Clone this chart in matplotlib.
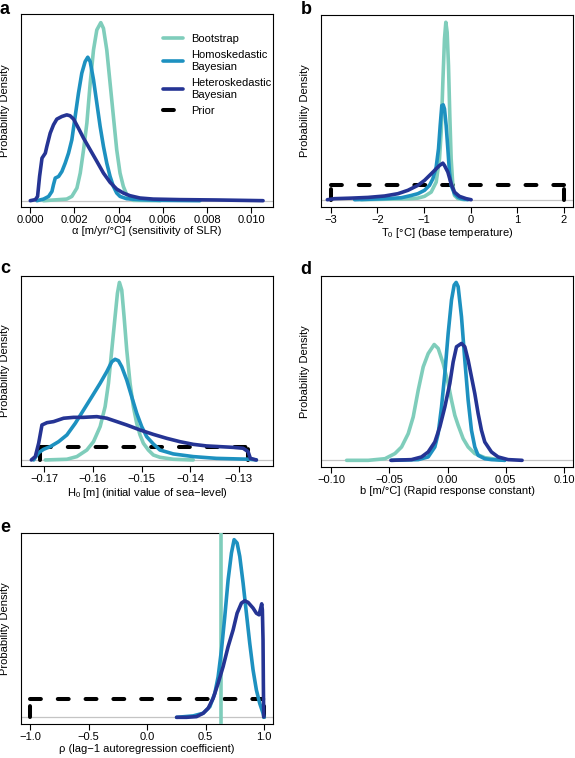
import matplotlib.pyplot as plt

plt.rcParams['font.family'] = ['Liberation Sans', 'DejaVu Sans']
plt.rcParams['font.size'] = 8
plt.rcParams['mathtext.fontset'] = 'custom'
plt.rcParams['mathtext.rm'] = 'Liberation Sans'

# colours
c_boot = '#7fcdbb'
c_homo = '#1d91c0'
c_het = '#253494'

series_names = ['Bootstrap', 'Homoskedastic\nBayesian', 'Heteroskedastic\nBayesian', 'Prior']

# ---- panel a: alpha (relative density)
a_boot_x = [0.00060, 0.00165, 0.00188, 0.00211, 0.00226, 0.00241, 0.00256, 0.00271, 0.00286, 0.00301,
            0.00319, 0.00331, 0.00346, 0.00361, 0.00376, 0.00391, 0.00406, 0.00421, 0.00436, 0.00451,
            0.00466, 0.00587]
a_boot_y = [0.0, 0.009, 0.024, 0.071, 0.155, 0.286, 0.436, 0.660, 0.847, 0.959,
            1.0, 0.968, 0.847, 0.660, 0.473, 0.286, 0.155, 0.080, 0.034, 0.011,
            0.002, 0.0]
a_homo_x = [0.00030, 0.00060, 0.00083, 0.00098, 0.00105, 0.00113, 0.00128, 0.00143, 0.00158, 0.00173,
            0.00188, 0.00203, 0.00218, 0.00233, 0.00248, 0.00260, 0.00271, 0.00286, 0.00301, 0.00316,
            0.00331, 0.00346, 0.00361, 0.00376, 0.00391, 0.00406, 0.00436, 0.00496, 0.00587, 0.00767]
a_homo_y = [0.0, 0.009, 0.024, 0.052, 0.090, 0.127, 0.136, 0.164, 0.211, 0.267,
            0.342, 0.473, 0.604, 0.716, 0.781, 0.806, 0.781, 0.679, 0.548, 0.417,
            0.305, 0.211, 0.136, 0.080, 0.043, 0.024, 0.011, 0.006, 0.002, 0.0]
a_het_x = [0.00000, 0.00023, 0.00033, 0.00042, 0.00053, 0.00068, 0.00075, 0.00090, 0.00105, 0.00120,
           0.00143, 0.00165, 0.00180, 0.00196, 0.00218, 0.00241, 0.00271, 0.00301, 0.00331, 0.00361,
           0.00391, 0.00421, 0.00451, 0.00496, 0.00556, 0.00677, 0.00842, 0.01053]
a_het_y = [0.0, 0.006, 0.024, 0.136, 0.239, 0.267, 0.305, 0.379, 0.426, 0.458,
           0.473, 0.482, 0.477, 0.458, 0.407, 0.351, 0.286, 0.221, 0.155, 0.103,
           0.065, 0.043, 0.028, 0.015, 0.009, 0.006, 0.004, 0.0]
a_ticks = [0.0, 0.002, 0.004, 0.006, 0.008, 0.010]
a_ticklabels = ['0.000', '0.002', '0.004', '0.006', '0.008', '0.010']

# ---- panel b: T0
b_boot_x = [-2.344, -1.274, -1.131, -0.989, -0.846, -0.739, -0.668, -0.632, -0.596, -0.561,
            -0.532, -0.504, -0.475, -0.447, -0.418, -0.382, -0.347, -0.275, -0.133]
b_boot_y = [0.0, 0.006, 0.009, 0.019, 0.043, 0.099, 0.231, 0.381, 0.662, 0.906,
            1.0, 0.944, 0.756, 0.475, 0.231, 0.081, 0.024, 0.006, 0.0]
b_homo_x = [-2.486, -1.844, -1.488, -1.274, -1.131, -0.989, -0.882, -0.810, -0.739, -0.689,
            -0.653, -0.618, -0.589, -0.561, -0.525, -0.489, -0.454, -0.418, -0.347, -0.275,
            -0.204, -0.061]
b_homo_y = [0.0, 0.006, 0.011, 0.024, 0.034, 0.053, 0.081, 0.118, 0.184, 0.287,
            0.418, 0.531, 0.535, 0.512, 0.418, 0.287, 0.156, 0.081, 0.034, 0.015,
            0.006, 0.0]
b_het_x = [-3.071, -2.914, -2.558, -2.201, -1.844, -1.559, -1.345, -1.131, -0.989, -0.846,
           -0.739, -0.668, -0.596, -0.561, -0.489, -0.418, -0.347, -0.240, -0.097, 0.010]
b_het_y = [0.0, 0.006, 0.009, 0.013, 0.021, 0.034, 0.053, 0.081, 0.109, 0.146,
           0.174, 0.193, 0.206, 0.193, 0.156, 0.090, 0.043, 0.019, 0.006, 0.0]
b_prior = (-3.0, 2.0, 0.081)
b_ticks = [-3, -2, -1, 0, 1, 2]
b_ticklabels = ['−3', '−2', '−1', '0', '1', '2']

# ---- panel c: H0
c_boot_x = [-0.16979, -0.16535, -0.16330, -0.16125, -0.15988, -0.15851, -0.15749, -0.15680, -0.15612, -0.15544,
            -0.15496, -0.15455, -0.15407, -0.15359, -0.15304, -0.15236, -0.15168, -0.15099, -0.15031, -0.14962,
            -0.14860, -0.14757, -0.14621, -0.14347, -0.13937]
c_boot_y = [0.0, 0.004, 0.019, 0.056, 0.103, 0.188, 0.300, 0.432, 0.619, 0.807,
            0.938, 1.0, 0.957, 0.807, 0.619, 0.432, 0.300, 0.206, 0.141, 0.094,
            0.056, 0.028, 0.015, 0.004, 0.0]
c_homo_x = [-0.17219, -0.17116, -0.17014, -0.16877, -0.16706, -0.16535, -0.16364, -0.16193, -0.16022, -0.15851,
            -0.15715, -0.15612, -0.15544, -0.15475, -0.15407, -0.15304, -0.15202, -0.15099, -0.14997, -0.14894,
            -0.14757, -0.14621, -0.14347, -0.13937, -0.13458, -0.12774, -0.12638]
c_homo_y = [0.0, 0.041, 0.060, 0.075, 0.103, 0.141, 0.206, 0.281, 0.356, 0.432,
            0.497, 0.553, 0.567, 0.559, 0.525, 0.450, 0.356, 0.263, 0.188, 0.131,
            0.090, 0.056, 0.034, 0.019, 0.009, 0.004, 0.0]
c_het_x = [-0.17267, -0.17185, -0.17116, -0.17048, -0.16945, -0.16809, -0.16603, -0.16398, -0.16193, -0.15920,
           -0.15715, -0.15509, -0.15304, -0.15031, -0.14757, -0.14484, -0.14210, -0.13937, -0.13663, -0.13390,
           -0.13116, -0.12911, -0.12809, -0.12761, -0.12638]
c_het_y = [0.0, 0.019, 0.094, 0.197, 0.210, 0.216, 0.235, 0.240, 0.240, 0.244,
           0.235, 0.216, 0.197, 0.169, 0.144, 0.122, 0.103, 0.088, 0.079, 0.075,
           0.071, 0.066, 0.047, 0.009, 0.0]
c_prior = (-0.17096, -0.12809, 0.071)
c_ticks = [-0.17, -0.16, -0.15, -0.14, -0.13]
c_ticklabels = ['−0.17', '−0.16', '−0.15', '−0.14', '−0.13']

# ---- panel d: b
d_boot_x = [-0.08657, -0.06800, -0.05371, -0.04514, -0.03943, -0.03371, -0.02943, -0.02514, -0.02086, -0.01657,
            -0.01143, -0.00800, -0.00371, 0.00057, 0.00343, 0.00629, 0.00914, 0.01343, 0.01771, 0.02343,
            0.03200, 0.04343, 0.04914]
d_boot_y = [0.0, 0.0, 0.009, 0.038, 0.075, 0.150, 0.244, 0.394, 0.525, 0.600,
            0.651, 0.629, 0.544, 0.432, 0.338, 0.253, 0.197, 0.122, 0.075, 0.038,
            0.015, 0.004, 0.0]
d_homo_x = [-0.04800, -0.02514, -0.01657, -0.01086, -0.00800, -0.00514, -0.00229, 0.00057, 0.00343, 0.00571,
            0.00743, 0.00914, 0.01200, 0.01486, 0.01771, 0.02057, 0.02343, 0.02629, 0.03200, 0.03771,
            0.04914]
d_homo_y = [0.0, 0.004, 0.019, 0.075, 0.150, 0.300, 0.488, 0.713, 0.901, 0.985,
            1.0, 0.976, 0.807, 0.563, 0.338, 0.169, 0.075, 0.028, 0.009, 0.004,
            0.0]
d_het_x = [-0.04857, -0.03086, -0.02229, -0.01657, -0.01086, -0.00657, -0.00229, 0.00200, 0.00486, 0.00771,
           0.01200, 0.01486, 0.01771, 0.02057, 0.02343, 0.02629, 0.02914, 0.03200, 0.03771, 0.04343,
           0.05200, 0.06400]
d_het_y = [0.0, 0.004, 0.019, 0.047, 0.103, 0.188, 0.300, 0.432, 0.553, 0.638,
           0.657, 0.638, 0.563, 0.469, 0.375, 0.263, 0.169, 0.103, 0.047, 0.019,
           0.004, 0.0]
d_ticks = [-0.10, -0.05, 0.0, 0.05, 0.10]
d_ticklabels = ['−0.10', '−0.05', '0.00', '0.05', '0.10']

# ---- panel e: rho
e_boot_rho = 0.633
e_homo_x = [0.2518, 0.3940, 0.4794, 0.5363, 0.5789, 0.6074, 0.6358, 0.6643, 0.6927, 0.7212,
            0.7440, 0.7696, 0.7923, 0.8208, 0.8492, 0.8777, 0.9061, 0.9346, 0.9630, 0.9915,
            1.0000]
e_homo_y = [0.0, 0.008, 0.023, 0.060, 0.135, 0.229, 0.380, 0.568, 0.774, 0.925,
            1.0, 0.981, 0.906, 0.756, 0.586, 0.417, 0.267, 0.154, 0.079, 0.023,
            0.0]
e_het_x = [0.2518, 0.3371, 0.4225, 0.4794, 0.5220, 0.5647, 0.6074, 0.6501, 0.6927, 0.7354,
           0.7696, 0.8065, 0.8350, 0.8634, 0.9061, 0.9346, 0.9573, 0.9716, 0.9801, 0.9858,
           0.9915, 0.9943, 0.9972]
e_het_y = [0.0, 0.0, 0.004, 0.023, 0.051, 0.107, 0.192, 0.286, 0.398, 0.492,
           0.586, 0.643, 0.656, 0.647, 0.615, 0.586, 0.577, 0.615, 0.639, 0.605,
           0.436, 0.192, 0.004]
e_prior = (-1.0, 1.0, 0.1015)
e_ticks = [-1.0, -0.5, 0.0, 0.5, 1.0]
e_ticklabels = ['−1.0', '−0.5', '0.0', '0.5', '1.0']

W, H = 575, 758
fig = plt.figure(figsize=(W / 100, H / 100), dpi=100)

LW = 2.6
DASH = (0, (2.7, 4.2))


def make_ax(left, top, right, bottom):
    return fig.add_axes([left / W, 1 - bottom / H, (right - left) / W, (bottom - top) / H])


def draw_prior(ax, prior):
    lo, hi, h = prior
    kw = dict(color='black', lw=2.9, linestyle=DASH, dash_capstyle='round', zorder=2)
    ax.plot([lo, hi], [h, h], **kw)
    ax.plot([lo, lo], [0, h], **kw)
    ax.plot([hi, hi], [0, h], **kw)


def style(ax, letter, lx, ly, ticks, ticklabels, xlabel, xlim, ylim):
    ax.axhline(0, color='#c4c4c4', lw=0.9, zorder=1)
    ax.set_xlim(xlim)
    ax.set_ylim(ylim)
    ax.set_xticks(ticks)
    ax.set_xticklabels(ticklabels)
    ax.set_yticks([])
    ax.tick_params(axis='x', direction='out', length=4.3, width=0.8, pad=1.8, labelsize=8)
    for s in ax.spines.values():
        s.set_linewidth(0.8)
    ax.set_xlabel(xlabel, fontsize=8)
    ax.xaxis.set_label_coords(0.5, -19.5 / ax.bbox.height)
    ax.set_ylabel('Probability Density', fontsize=8)
    ax.yaxis.label.set_va('center')
    ax.yaxis.set_label_coords(-15.5 / ax.bbox.width, 0.5)
    fig.text(lx / W, 1 - ly / H, letter, fontsize=13, fontweight='bold', ha='left', va='baseline')


def curve(ax, x, y, c):
    return ax.plot(x, y, color=c, lw=LW, solid_capstyle='round', solid_joinstyle='round', zorder=3)[0]


# a
ax = make_ax(21, 14, 273, 207)
h1 = curve(ax, a_boot_x, a_boot_y, c_boot)
h2 = curve(ax, a_homo_x, a_homo_y, c_homo)
h3 = curve(ax, a_het_x, a_het_y, c_het)
h4, = ax.plot([], [], color='black', lw=2.9, linestyle=DASH, dash_capstyle='round')
style(ax, 'a', 0, 14, a_ticks, a_ticklabels, 'α [m/yr/°C] (sensitivity of SLR)',
      (-0.00042, 0.01098), (-0.0355, 1.0486))
ax.legend([h1, h2, h3, h4], series_names, loc='upper left', bbox_to_anchor=(0.563, 0.895),
          frameon=False, fontsize=8, handlelength=1.8, handletextpad=0.75, labelspacing=0.55,
          borderpad=0, borderaxespad=0)

# b
ax = make_ax(321, 15, 573, 207)
draw_prior(ax, b_prior)
curve(ax, b_boot_x, b_boot_y, c_boot)
curve(ax, b_homo_x, b_homo_y, c_homo)
curve(ax, b_het_x, b_het_y, c_het)
style(ax, 'b', 301, 14, b_ticks, b_ticklabels, r'T$_\mathregular{0}$ [°C] (base temperature)',
      (-3.207, 2.193), (-0.041, 1.041))

# c
ax = make_ax(21, 276, 273, 466)
draw_prior(ax, c_prior)
curve(ax, c_boot_x, c_boot_y, c_boot)
curve(ax, c_homo_x, c_homo_y, c_homo)
curve(ax, c_het_x, c_het_y, c_het)
style(ax, 'c', 0, 273, c_ticks, c_ticklabels, r'H$_\mathregular{0}$ [m] (initial value of sea−level)',
      (-0.17479, -0.12296), (-0.034, 1.036))

# d
ax = make_ax(321, 276, 573, 467)
curve(ax, d_boot_x, d_boot_y, c_boot)
curve(ax, d_homo_x, d_homo_y, c_homo)
curve(ax, d_het_x, d_het_y, c_het)
style(ax, 'd', 300, 274, d_ticks, d_ticklabels, 'b [m/°C] (Rapid response constant)',
      (-0.10857, 0.10771), (-0.0375, 1.036))

# e
ax = make_ax(21, 533, 273, 724)
draw_prior(ax, e_prior)
ax.axvline(e_boot_rho, color=c_boot, lw=LW, zorder=3)
curve(ax, e_homo_x, e_homo_y, c_homo)
curve(ax, e_het_x, e_het_y, c_het)
style(ax, 'e', 0, 532, e_ticks, e_ticklabels, 'ρ (lag−1 autoregression coefficient)',
      (-1.0797, 1.0768), (-0.0376, 1.0376))

plt.savefig('out.png', dpi=100)
